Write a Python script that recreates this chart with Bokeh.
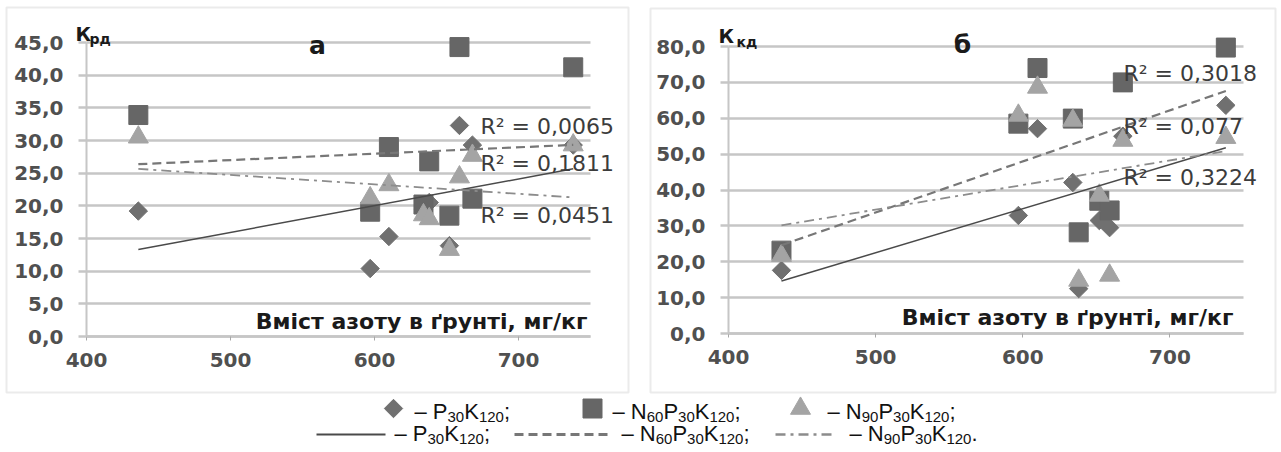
import re
import numpy as np
from bokeh.plotting import figure
from bokeh.layouts import row, column
from bokeh.models import Range1d, FixedTicker, Label, BoxAnnotation, Grid
from bokeh.embed import file_html
from bokeh.resources import INLINE
from bokeh.core.properties import value

# ---------------- data ----------------
N_SOIL = [436, 597, 610, 634, 638, 652, 659, 668, 738]   # Вміст азоту в ґрунті, мг/кг

SERIES = ["P30K120", "N60P30K120", "N90P30K120"]

KRD_P30K120    = [19.2, 10.4, 15.3, 19.5, 20.5, 13.9, 32.3, 29.3, 29.3]
KRD_N60P30K120 = [33.9, 19.1, 29.0, 20.2, 26.8, 18.5, 44.3, 21.1, 41.2]
KRD_N90P30K120 = [30.5, 21.2, 23.2, 18.6, 18.0, 13.3, 24.4, 27.7, 29.3]

KKD_P30K120    = [17.6, 32.9, 57.1, 42.1, 12.5, 31.5, 29.5, 55.0, 63.6]
KKD_N60P30K120 = [23.1, 58.5, 74.0, 59.9, 28.2, 37.0, 34.3, 70.0, 79.7]
KKD_N90P30K120 = [21.7, 60.8, 68.6, 59.4, 14.8, 38.5, 16.2, 53.8, 54.6]

R2_A = ["R² = 0,0065", "R² = 0,1811", "R² = 0,0451"]
R2_B = ["R² = 0,3018", "R² = 0,077", "R² = 0,3224"]

X_MIN, X_MAX = 400, 750
X_TICKS = [400, 500, 600, 700]
X_TICK_LABELS = ["400", "500", "600", "700"]
Y_TICKS_A = [0, 5, 10, 15, 20, 25, 30, 35, 40, 45]
Y_TICK_LABELS_A = ["0,0", "5,0", "10,0", "15,0", "20,0", "25,0", "30,0", "35,0", "40,0", "45,0"]
Y_TICKS_B = [0, 10, 20, 30, 40, 50, 60, 70, 80]
Y_TICK_LABELS_B = ["0,0", "10,0", "20,0", "30,0", "40,0", "50,0", "60,0", "70,0", "80,0"]

X_TITLE = "Вміст азоту в ґрунті, мг/кг"

# ---------------- styles ----------------
GRID = "#c6c6c6"
TICK_COLOR = "#505050"
MARKERS = {
    "P30K120":    dict(marker="square", size=13, angle=np.pi / 4, color="#707070"),
    "N60P30K120": dict(marker="square", size=19, angle=0.0, color="#666666"),
    "N90P30K120": dict(marker="triangle", size=20, angle=0.0, color="#a4a4a4"),
}
TRENDS = {
    "P30K120":    dict(color="#4a4a4a", width=1.5, dash="solid"),
    "N60P30K120": dict(color="#777777", width=2.2, dash="9 5"),
    "N90P30K120": dict(color="#8c8c8c", width=1.8, dash="10 5 3 5"),
}


def make_panel(width, height, area, y_max, yticks, yticklabels, values, r2_texts,
               r2_left, r2_ys, letter, letter_c, sub_text, k_pos, sub_pos, title_right,
               title_cy, box):
    # area: pixel box of the data area inside this figure (left, top, right, bottom)
    al, at, ar, ab = area
    sx = (X_MAX - X_MIN) / (ar - al)
    sy = y_max / (ab - at)

    def dx(px):
        return X_MIN + (px - al) * sx

    def dy(py):
        return (ab - py) * sy

    p = figure(width=width, height=height,
               x_range=Range1d(dx(0), dx(width)), y_range=Range1d(dy(height), dy(0)),
               output_backend="svg", toolbar_location=None,
               min_border=0, min_border_left=0, min_border_right=0,
               min_border_top=0, min_border_bottom=0)
    p.outline_line_color = None
    p.background_fill_color = "white"
    p.border_fill_color = "white"

    # axes, fixed at the data origin
    xa = p.xaxis[0]
    xa.fixed_location = 0
    xa.bounds = (X_MIN, X_MAX)
    xa.ticker = FixedTicker(ticks=X_TICKS)
    xa.major_label_overrides = dict(zip(X_TICKS, X_TICK_LABELS))
    xa.axis_line_color = GRID
    xa.axis_line_width = 2.5
    xa.major_tick_out = 4
    xa.major_tick_in = 0
    xa.major_tick_line_color = "#a8a8a8"
    xa.minor_tick_line_color = None
    xa.major_label_standoff = 12
    ya = p.yaxis[0]
    ya.fixed_location = X_MIN
    ya.bounds = (0, y_max)
    ya.ticker = FixedTicker(ticks=yticks)
    ya.major_label_overrides = dict(zip(yticks, yticklabels))
    ya.axis_line_color = GRID
    ya.axis_line_width = 2
    ya.major_tick_out = 8
    ya.major_tick_in = 0
    ya.major_tick_line_color = GRID
    ya.major_tick_line_width = 2.5
    ya.minor_tick_line_color = None
    ya.major_label_standoff = 15
    for a in (xa, ya):
        a.major_label_text_font = "DejaVu Sans"
        a.major_label_text_font_style = "bold"
        a.major_label_text_font_size = "20px"
        a.major_label_text_color = TICK_COLOR
    p.xgrid.grid_line_color = None
    if "cross_bounds" in Grid.properties():
        p.ygrid.cross_bounds = (X_MIN, X_MAX)
        p.ygrid.grid_line_color = GRID
        p.ygrid.grid_line_width = 2.5
    else:
        p.ygrid.grid_line_color = None
        p.segment(x0=[X_MIN] * len(yticks), x1=[X_MAX] * len(yticks), y0=yticks, y1=yticks,
                  line_color=GRID, line_width=2.5, level="underlay")

    # panel border
    p.add_layout(BoxAnnotation(left=dx(box[0]), right=dx(box[2]), top=dy(box[1]), bottom=dy(box[3]),
                               fill_color=None, fill_alpha=0, line_color="#bdbdbd", line_width=2))

    # markers
    for name in SERIES:
        m = MARKERS[name]
        p.scatter(N_SOIL, values[name], marker=m["marker"], size=m["size"], angle=m["angle"],
                  fill_color=m["color"], line_color=m["color"], line_width=1)
    # linear trend lines
    for name in SERIES:
        k, b = np.polyfit(N_SOIL, values[name], 1)
        xs = [min(N_SOIL), max(N_SOIL)]
        ys = [k * v + b for v in xs]
        t = TRENDS[name]
        p.line(xs, ys, line_color=t["color"], line_width=t["width"], line_dash=t["dash"])

    # texts
    for txt, py in zip(r2_texts, r2_ys):
        p.add_layout(Label(x=dx(r2_left), y=dy(py), text=txt, text_font="DejaVu Sans",
                           text_font_size="22px", text_color="#3c3c3c", text_baseline="middle",
                           text_align="left"))
    p.add_layout(Label(x=dx(letter_c[0]), y=dy(letter_c[1]), text=letter, text_font="DejaVu Sans",
                       text_font_style="bold", text_font_size="25px", text_color="#1a1a1a",
                       text_baseline="middle", text_align="center"))
    p.add_layout(Label(x=dx(k_pos[0]), y=dy(k_pos[1]), text="К", text_font="DejaVu Sans",
                       text_font_style="bold", text_font_size="19px", text_color="#1a1a1a",
                       text_baseline="alphabetic", text_align="left"))
    p.add_layout(Label(x=dx(sub_pos[0]), y=dy(sub_pos[1]), text=sub_text, text_font="DejaVu Sans",
                       text_font_style="bold", text_font_size="14px", text_color="#1a1a1a",
                       text_baseline="alphabetic", text_align="left"))
    p.add_layout(Label(x=dx(title_right), y=dy(title_cy), text=X_TITLE, text_font="DejaVu Sans",
                       text_font_style="bold", text_font_size="22px", text_color="#1a1a1a",
                       text_baseline="middle", text_align="right"))
    return p


pa = make_panel(640, 395, (86, 42, 590, 336), 45, Y_TICKS_A, Y_TICK_LABELS_A,
                {"P30K120": KRD_P30K120, "N60P30K120": KRD_N60P30K120, "N90P30K120": KRD_N90P30K120},
                R2_A, 480, [126, 163, 215], "а", (317, 45), "рд", (75, 33), (89, 38), 587, 321,
                (6, 7, 628, 392))
pb = make_panel(641, 395, (88, 46, 603, 333), 80, Y_TICKS_B, Y_TICK_LABELS_B,
                {"P30K120": KKD_P30K120, "N60P30K120": KKD_N60P30K120, "N90P30K120": KKD_N90P30K120},
                R2_B, 483, [73, 126, 177], "б", (322, 44), "кд", (78, 35), (96, 41), 593, 317,
                (10, 8, 635, 392))

# ---------------- legend (pixel coordinates of the caption area) ----------------
pl = figure(width=1281, height=57, x_range=Range1d(0, 1281), y_range=Range1d(452, 395),
            output_backend="svg", toolbar_location=None, x_axis_location=None, y_axis_location=None,
            min_border=0, min_border_left=0, min_border_right=0, min_border_top=0, min_border_bottom=0)
pl.outline_line_color = None
pl.grid.visible = False

ARIAL_W = {"–": .556, " ": .278, "P": .667, "K": .667, "N": .722, ";": .278, ".": .278}
for d in "0123456789":
    ARIAL_W[d] = .556
MAIN, SUB = 22, 15


def rich(x, y_base, label, end):
    # main text sits on y_base, digit groups are set lower and smaller (subscripts)
    segs = [("– ", False)] + [(s, s.isdigit()) for s in re.findall(r"\d+|[A-Z]+", label)] + [(end, False)]
    for txt, is_sub in segs:
        size = SUB if is_sub else MAIN
        yc = (y_base + 3 - 0.35 * size) if is_sub else (y_base - 0.35 * size)
        pl.text(x=[x], y=[yc], text=[txt], text_font=value("Liberation Sans"),
                text_font_size=f"{size}px", text_color="#111111", text_baseline="middle",
                text_align="left")
        x += sum(ARIAL_W.get(c, .6) for c in txt) * size


ROW1_Y, ROW2_Y = 408, 434
marker_x = [393, 592, 800]
text1_x = [414, 612, 827]
line_x = [(316, 385), (514, 608), (775, 836)]
text2_x = [394, 621, 849]
for i, name in enumerate(SERIES):
    m = MARKERS[name]
    pl.scatter([marker_x[i]], [ROW1_Y], marker=m["marker"], size=m["size"], angle=m["angle"],
               fill_color=m["color"], line_color=m["color"])
    rich(text1_x[i], ROW1_Y + 11, name, ";")
    t = TRENDS[name]
    pl.line(list(line_x[i]), [ROW2_Y, ROW2_Y], line_color=t["color"], line_width=t["width"] + 0.6,
            line_dash=t["dash"])
    rich(text2_x[i], ROW2_Y + 7, name, ";" if i < 2 else ".")

layout = column(row(pa, pb), pl)
open("out.html", "w").write(file_html(layout, INLINE))
